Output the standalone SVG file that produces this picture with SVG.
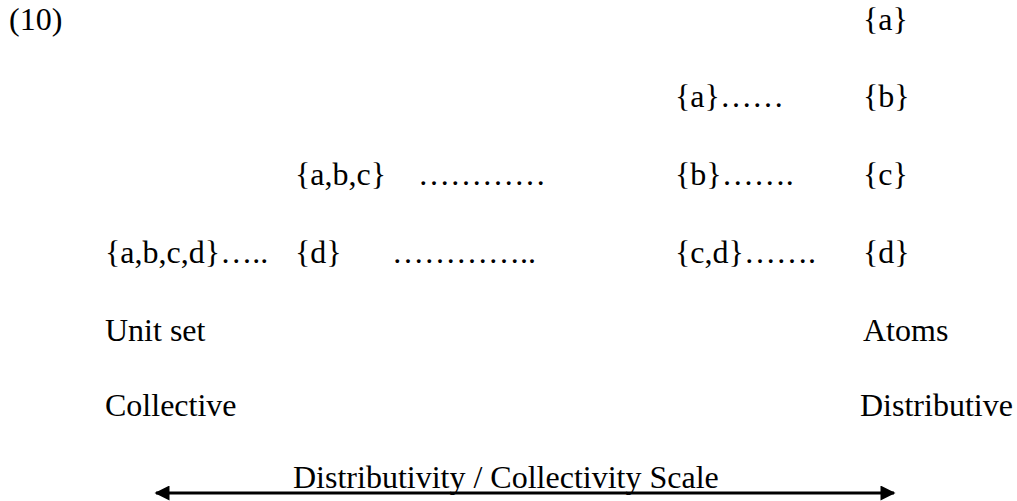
<svg xmlns="http://www.w3.org/2000/svg" width="1017" height="501" viewBox="0 0 1017 501">
<style>
text{font-family:"Liberation Serif","Times New Roman",serif;font-size:32px;fill:#000}
.ln{stroke:#000;stroke-width:3;fill:none}
</style>
<defs>
<marker id="ah" viewBox="0 0 10 10" refX="9" refY="5" markerWidth="6" markerHeight="5" markerUnits="strokeWidth" orient="auto-start-reverse">
<path d="M0,0 L10,5 L0,10 Z" fill="#000"/>
</marker>
</defs>
<rect width="1017" height="501" fill="#fff"/>
<g id="label-10"><text x="9" y="30">(10)</text></g>
<g id="row1"><text x="863" y="30">{a}</text></g>
<g id="row2">
<text x="675" y="107">{a}……</text>
<text x="863" y="107">{b}</text>
</g>
<g id="row3">
<text x="295" y="185">{a,b,c}</text>
<text x="418" y="185">…………</text>
<text x="675" y="185">{b}…….</text>
<text x="863" y="185">{c}</text>
</g>
<g id="row4">
<text x="105" y="263">{a,b,c,d}…..</text>
<text x="295" y="263">{d}</text>
<text x="392" y="263">…………..</text>
<text x="675" y="263">{c,d}…….</text>
<text x="863" y="263">{d}</text>
</g>
<g id="unit-set"><text x="105" y="341">Unit set</text></g>
<g id="atoms"><text x="863" y="341">Atoms</text></g>
<g id="collective"><text x="105" y="416">Collective</text></g>
<g id="distributive"><text x="860" y="416">Distributive</text></g>
<g id="scale-label"><text x="293" y="488">Distributivity / Collectivity Scale</text></g>
<g id="connectors">
<line class="ln" x1="156" y1="493" x2="894" y2="493" marker-start="url(#ah)" marker-end="url(#ah)"/>
</g>
</svg>
